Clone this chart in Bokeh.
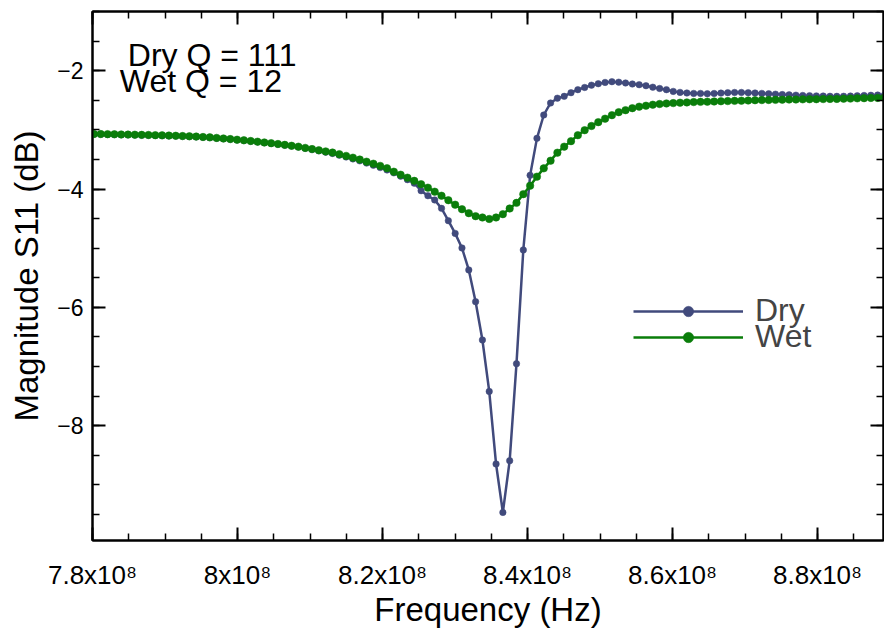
from bokeh.plotting import figure
from bokeh.models import (Range1d, LinearAxis, SingleIntervalTicker, Legend,
                          LegendItem, Label)
from bokeh.embed import file_html
from bokeh.resources import INLINE

# ---------------- data ----------------
freq_mhz = [
    780.20, 781.14, 782.08, 783.02, 783.96, 784.90, 785.84, 786.78, 787.72, 788.66,
    789.60, 790.54, 791.48, 792.42, 793.36, 794.30, 795.24, 796.18, 797.12, 798.06,
    799.00, 799.94, 800.88, 801.82, 802.76, 803.70, 804.64, 805.58, 806.52, 807.46,
    808.40, 809.34, 810.28, 811.22, 812.16, 813.10, 814.04, 814.98, 815.92, 816.86,
    817.80, 818.74, 819.68, 820.62, 821.56, 822.50, 823.44, 824.38, 825.32, 826.26,
    827.20, 828.14, 829.08, 830.02, 830.96, 831.90, 832.84, 833.78, 834.72, 835.66,
    836.60, 837.54, 838.48, 839.42, 840.36, 841.30, 842.24, 843.18, 844.12, 845.06,
    846.00, 846.94, 847.88, 848.82, 849.76, 850.70, 851.64, 852.58, 853.52, 854.46,
    855.40, 856.34, 857.28, 858.22, 859.16, 860.10, 861.04, 861.98, 862.92, 863.86,
    864.80, 865.74, 866.68, 867.62, 868.56, 869.50, 870.44, 871.38, 872.32, 873.26,
    874.20, 875.14, 876.08, 877.02, 877.96, 878.90, 879.84, 880.78, 881.72, 882.66,
    883.60, 884.54, 885.48, 886.42, 887.36, 888.30, 889.24,
]

dry_db = [
    -3.075, -3.076, -3.078, -3.080, -3.083, -3.085, -3.087, -3.090, -3.092, -3.095,
    -3.098, -3.102, -3.105, -3.110, -3.114, -3.119, -3.126, -3.132, -3.141, -3.151,
    -3.161, -3.171, -3.181, -3.193, -3.205, -3.218, -3.230, -3.244, -3.259, -3.274,
    -3.290, -3.311, -3.333, -3.355, -3.377, -3.399, -3.428, -3.459, -3.491, -3.524,
    -3.562, -3.599, -3.638, -3.678, -3.727, -3.783, -3.842, -3.901, -4.028, -4.113,
    -4.185, -4.327, -4.535, -4.750, -4.996, -5.368, -5.904, -6.551, -7.420, -8.647,
    -9.465, -8.591, -6.952, -5.030, -3.769, -3.144, -2.749, -2.546, -2.465, -2.434,
    -2.372, -2.321, -2.284, -2.245, -2.220, -2.199, -2.186, -2.194, -2.208, -2.225,
    -2.237, -2.254, -2.279, -2.301, -2.321, -2.350, -2.367, -2.377, -2.384, -2.384,
    -2.389, -2.385, -2.379, -2.372, -2.368, -2.368, -2.372, -2.377, -2.384, -2.390,
    -2.397, -2.404, -2.409, -2.414, -2.419, -2.423, -2.426, -2.429, -2.433, -2.434,
    -2.433, -2.429, -2.424, -2.419, -2.416, -2.412, -2.411,
]

wet_db = [
    -3.070, -3.071, -3.073, -3.075, -3.078, -3.080, -3.082, -3.085, -3.087, -3.090,
    -3.093, -3.097, -3.100, -3.105, -3.109, -3.114, -3.121, -3.127, -3.136, -3.146,
    -3.156, -3.166, -3.176, -3.188, -3.200, -3.213, -3.225, -3.239, -3.254, -3.269,
    -3.284, -3.305, -3.325, -3.345, -3.364, -3.384, -3.411, -3.440, -3.470, -3.502,
    -3.538, -3.572, -3.609, -3.648, -3.707, -3.758, -3.808, -3.862, -3.918, -3.977,
    -4.045, -4.113, -4.189, -4.265, -4.341, -4.408, -4.459, -4.481, -4.506, -4.481,
    -4.425, -4.329, -4.234, -4.087, -3.944, -3.791, -3.651, -3.521, -3.386, -3.284,
    -3.191, -3.090, -3.006, -2.935, -2.870, -2.811, -2.752, -2.701, -2.668, -2.634,
    -2.608, -2.592, -2.575, -2.563, -2.554, -2.548, -2.541, -2.536, -2.531, -2.527,
    -2.524, -2.521, -2.517, -2.514, -2.510, -2.507, -2.504, -2.500, -2.497, -2.495,
    -2.493, -2.490, -2.488, -2.487, -2.485, -2.483, -2.482, -2.480, -2.478, -2.477,
    -2.473, -2.472, -2.468, -2.465, -2.461, -2.460, -2.456,
]

freq_hz = [f * 1e6 for f in freq_mhz]

x_tick_values = [7.8e8, 8.0e8, 8.2e8, 8.4e8, 8.6e8, 8.8e8]
x_tick_labels = ["7.8x10\u2078", "8x10\u2078", "8.2x10\u2078", "8.4x10\u2078",
                 "8.6x10\u2078", "8.8x10\u2078"]

series_names = ["Dry", "Wet"]
q_labels = ["Dry Q = 111", "Wet Q = 12"]

DRY_COLOR = "#414a7c"
WET_COLOR = "#0a7d0a"
FONT = "Liberation Sans"

# ---------------- figure ----------------
p = figure(width=884, height=632,
           x_range=Range1d(7.8e8, 8.891e8), y_range=Range1d(-9.94, -1.0),
           output_backend="svg", toolbar_location=None,
           min_border_left=92, min_border_right=1,
           min_border_top=11, min_border_bottom=92)
p.grid.visible = False
p.outline_line_color = "black"
p.outline_line_width = 2
p.background_fill_color = "white"
p.border_fill_color = "white"

bottom_axis = p.below[0]
left_axis = p.left[0]

xticker = SingleIntervalTicker(interval=2e7, num_minor_ticks=4)
yticker = SingleIntervalTicker(interval=2, num_minor_ticks=4)

bottom_axis.ticker = xticker
left_axis.ticker = yticker
bottom_axis.major_label_overrides = dict(zip(x_tick_values, x_tick_labels))

top_axis = LinearAxis(ticker=xticker)
right_axis = LinearAxis(ticker=yticker)
p.add_layout(top_axis, "above")
p.add_layout(right_axis, "right")

for ax in [bottom_axis, left_axis, top_axis, right_axis]:
    ax.axis_line_color = "black"
    ax.axis_line_width = 2
    ax.major_tick_in = 13
    ax.major_tick_out = 0
    ax.minor_tick_in = 7
    ax.minor_tick_out = 0
    ax.major_tick_line_width = 2
    ax.minor_tick_line_width = 1.5
    ax.major_tick_line_color = "black"
    ax.minor_tick_line_color = "black"
    ax.major_label_text_font = FONT
    ax.major_label_text_color = "black"
    ax.axis_label_text_font = FONT
    ax.axis_label_text_font_style = "normal"
    ax.axis_label_text_color = "black"

for ax in [top_axis, right_axis]:
    ax.major_label_text_font_size = "0px"
    ax.major_label_standoff = 0
    ax.axis_label_standoff = 0
    ax.major_label_text_alpha = 0

bottom_axis.major_label_text_font_size = "26px"
bottom_axis.major_label_standoff = 19
bottom_axis.major_label_text_line_height = 1.0
bottom_axis.axis_label = "Frequency (Hz)"
bottom_axis.axis_label_text_font_size = "33px"
bottom_axis.axis_label_standoff = -2
bottom_axis.axis_label_text_line_height = 1.0

left_axis.major_label_text_font_size = "23px"
left_axis.major_label_standoff = 9
left_axis.axis_label = "Magnitude S11 (dB)"
left_axis.axis_label_text_font_size = "33px"
left_axis.axis_label_standoff = 9

# ---------------- series ----------------
dry_line = p.line(freq_hz, dry_db, line_color=DRY_COLOR, line_width=2.5)
dry_pts = p.scatter(freq_hz, dry_db, size=6.5, fill_color=DRY_COLOR,
                    line_color=DRY_COLOR, line_width=0.5)
wet_line = p.line(freq_hz, wet_db, line_color=WET_COLOR, line_width=2.5)
wet_pts = p.scatter(freq_hz, wet_db, size=7.5, fill_color=WET_COLOR,
                    line_color=WET_COLOR, line_width=0.5)

legend_style = dict(orientation="vertical", glyph_width=110, glyph_height=26,
                    label_height=26, label_standoff=12, spacing=0, padding=0,
                    margin=0, border_line_alpha=0, background_fill_alpha=0,
                    label_text_font=FONT, label_text_font_size="32px")
legend_dry = Legend(items=[LegendItem(label=series_names[0],
                                      renderers=[dry_line, dry_pts])],
                    location=(541, 211), **legend_style)
legend_wet = Legend(items=[LegendItem(label=series_names[1],
                                      renderers=[wet_line, wet_pts])],
                    location=(541, 185), **legend_style)
p.add_layout(legend_dry)
p.add_layout(legend_wet)

p.add_layout(Label(x=7.8487e8, y=-1.727, text=q_labels[0], text_font=FONT,
                   text_font_size="32px", text_baseline="alphabetic",
                   text_align="left", text_color="black"))
p.add_layout(Label(x=7.8377e8, y=-2.178, text=q_labels[1], text_font=FONT,
                   text_font_size="32px", text_baseline="alphabetic",
                   text_align="left", text_color="black"))

open("out.html", "w").write(file_html(p, INLINE))
